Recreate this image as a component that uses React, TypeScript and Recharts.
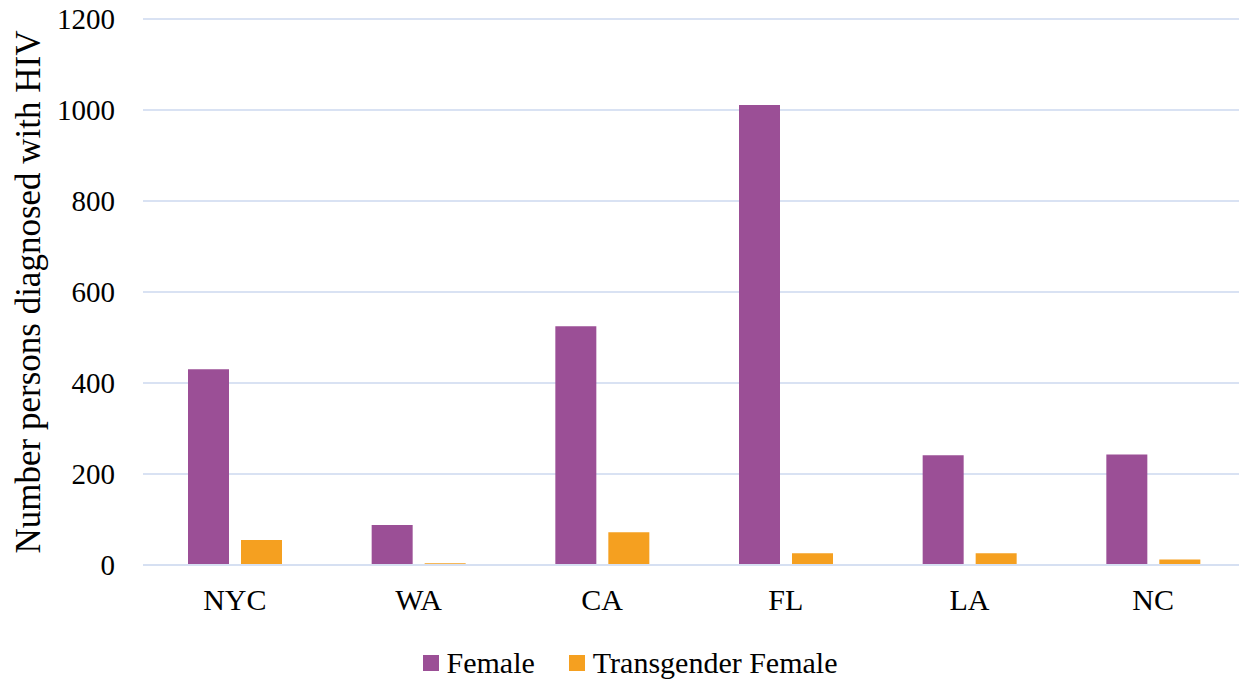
import React from "react";
import { BarChart, Bar, XAxis, YAxis, CartesianGrid } from "recharts";

const categories = ["NYC", "WA", "CA", "FL", "LA", "NC"];
const femaleValues = [430, 88, 525, 1011, 241, 243];
const transFemaleValues = [55, 4, 72, 26, 26, 12];
const yTicks = [0, 200, 400, 600, 800, 1000, 1200];
const seriesNames = ["Female", "Transgender Female"];
const seriesColors = ["#9B4F96", "#F5A020"];

const data = categories.map((c, i) => ({
  name: c,
  female: femaleValues[i],
  trans: transFemaleValues[i],
}));

const FONT = "'Liberation Serif', 'Times New Roman', serif";

export default function App() {
  return (
    <div
      style={{
        position: "absolute",
        left: 0,
        top: 0,
        width: 1239,
        height: 680,
        overflow: "hidden",
        background: "#fff",
        fontFamily: FONT,
      }}
    >
      <BarChart
        width={1250}
        height={680}
        data={data}
        margin={{ top: 19, right: 5, left: 0, bottom: 55 }}
        barGap={12}
        barSize={41}
      >
        <CartesianGrid vertical={false} stroke="#D9E2F3" strokeWidth={2} />
        <XAxis
          dataKey="name"
          height={60}
          tickLine={false}
          tickSize={0}
          tickMargin={24}
          axisLine={{ stroke: "#D6E0F2", strokeWidth: 2 }}
          tick={{ fill: "#000", fontSize: 30, fontFamily: FONT }}
        />
        <YAxis
          width={143}
          domain={[0, 1200]}
          ticks={yTicks}
          interval={0}
          tickLine={false}
          axisLine={false}
          tickSize={0}
          tickMargin={28}
          tick={{ fill: "#000", fontSize: 29, fontFamily: FONT }}
          label={{
            value: "Number persons diagnosed with HIV",
            angle: -90,
            position: "insideLeft",
            offset: 28,
            style: { textAnchor: "middle", fill: "#000", fontSize: 35, fontFamily: FONT },
          }}
        />
        <Bar dataKey="female" name={seriesNames[0]} fill={seriesColors[0]} isAnimationActive={false} />
        <Bar dataKey="trans" name={seriesNames[1]} fill={seriesColors[1]} isAnimationActive={false} />
      </BarChart>
      <div
        style={{
          position: "absolute",
          top: 645,
          left: 0,
          width: 1260,
          display: "flex",
          justifyContent: "center",
          alignItems: "center",
          gap: 34,
          fontSize: 30,
          lineHeight: "36px",
          color: "#000",
        }}
      >
        {seriesNames.map((n, i) => (
          <div key={n} style={{ display: "flex", alignItems: "center" }}>
            <span
              style={{
                display: "inline-block",
                width: 16,
                height: 16,
                background: seriesColors[i],
                marginRight: 8,
              }}
            />
            <span>{n}</span>
          </div>
        ))}
      </div>
    </div>
  );
}
